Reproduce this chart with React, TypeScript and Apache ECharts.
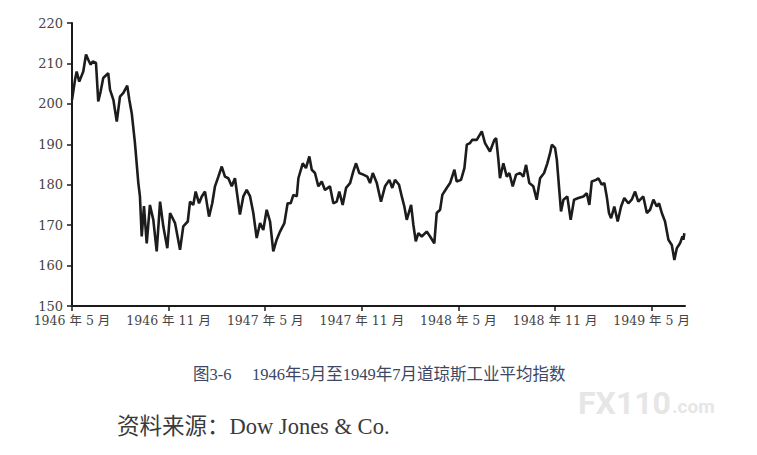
import React, { useEffect, useRef } from "react";
import * as echarts from "echarts";

// Months elapsed since 1 May 1946
const months = [
  0.0, 0.19, 0.29, 0.45, 0.7, 0.87, 1.01, 1.16, 1.29, 1.49, 1.63, 1.78, 1.94, 2.25, 2.36, 2.57, 2.78, 2.98, 3.19, 3.43,
  3.56, 3.71, 3.91, 4.12, 4.22, 4.33, 4.47, 4.64, 4.84, 5.05, 5.26, 5.47, 5.67, 5.92, 6.09, 6.4, 6.71, 6.91, 7.19, 7.33,
  7.53, 7.68, 7.89, 8.06, 8.26, 8.51, 8.71, 8.88, 9.09, 9.3, 9.5, 9.71, 9.92, 10.12, 10.43, 10.64, 10.85, 11.06, 11.26, 11.47,
  11.68, 11.88, 12.09, 12.3, 12.5, 12.71, 12.92, 13.19, 13.39, 13.58, 13.75, 13.96, 14.06, 14.33, 14.53, 14.74, 14.89, 15.09, 15.3, 15.51,
  15.71, 16.02, 16.23, 16.44, 16.6, 16.81, 17.02, 17.27, 17.47, 17.64, 17.84, 18.09, 18.34, 18.51, 18.68, 18.93, 19.19, 19.44, 19.71, 19.89,
  20.06, 20.31, 20.48, 20.64, 20.79, 21.06, 21.2, 21.35, 21.51, 21.72, 22.03, 22.24, 22.5, 22.65, 22.86, 23.0, 23.27, 23.48, 23.75, 23.89,
  24.16, 24.37, 24.52, 24.72, 24.86, 25.14, 25.45, 25.65, 25.96, 26.23, 26.34, 26.48, 26.58, 26.79, 27.0, 27.16, 27.37, 27.58, 27.83, 28.03,
  28.2, 28.4, 28.65, 28.86, 29.07, 29.32, 29.52, 29.69, 29.8, 30.0, 30.11, 30.27, 30.37, 30.52, 30.76, 30.97, 31.18, 31.45, 31.76, 31.97,
  32.13, 32.28, 32.55, 32.69, 32.9, 33.06, 33.21, 33.35, 33.48, 33.68, 33.89, 34.1, 34.3, 34.55, 34.76, 34.97, 35.17, 35.48, 35.7, 35.9,
  36.11, 36.32, 36.46, 36.63, 36.83, 37.04, 37.25, 37.41, 37.56, 37.76, 37.91, 37.97, 38.03,
];

// Dow Jones Industrial Average
const values = [
  201.0, 206.0, 208.0, 205.5, 208.0, 212.2, 210.9, 209.7, 210.5, 210.1, 200.6, 203.1, 206.4, 207.6, 203.5, 201.0, 195.6, 201.8, 202.7, 204.5,
  201.0, 197.7, 190.3, 180.4, 177.1, 167.2, 174.7, 165.5, 175.0, 171.3, 163.5, 175.8, 169.7, 164.3, 173.0, 170.5, 163.9, 169.7, 170.9, 175.8,
  175.0, 178.3, 175.4, 177.1, 178.3, 172.1, 175.4, 179.6, 182.0, 184.5, 182.0, 181.6, 179.6, 181.6, 172.6, 177.1, 178.7, 177.1, 173.0, 166.8,
  170.5, 168.8, 173.8, 170.9, 163.5, 166.4, 168.4, 170.5, 175.4, 175.4, 177.5, 177.1, 181.6, 185.3, 184.1, 187.0, 183.7, 182.9, 179.6, 180.8,
  178.7, 179.6, 175.4, 175.8, 178.3, 175.0, 179.2, 180.4, 183.3, 185.3, 182.9, 182.5, 182.0, 180.4, 182.9, 180.4, 175.8, 179.6, 181.2, 179.2,
  181.2, 180.0, 177.1, 174.6, 171.3, 175.0, 170.1, 166.0, 168.0, 167.2, 168.4, 167.2, 165.5, 173.0, 173.8, 177.5, 179.2, 180.4, 183.7, 180.8,
  181.2, 184.1, 189.9, 190.3, 191.1, 191.1, 193.2, 190.3, 188.2, 191.1, 191.5, 186.2, 181.6, 185.3, 182.0, 182.9, 179.6, 182.5, 182.9, 182.0,
  184.9, 180.4, 179.6, 176.3, 181.6, 182.9, 185.3, 187.8, 189.9, 189.1, 186.2, 178.3, 173.4, 176.3, 177.1, 171.3, 176.3, 176.7, 177.1, 177.9,
  175.0, 180.8, 181.2, 181.6, 180.0, 180.4, 177.1, 173.0, 171.7, 174.6, 170.9, 174.6, 176.7, 175.4, 176.3, 178.3, 175.8, 177.1, 173.0, 173.8,
  176.3, 174.6, 175.4, 173.0, 170.9, 166.4, 165.1, 161.4, 164.3, 165.5, 167.2, 166.4, 168.0,
];

const startYear = 1946;
const startMonth = 5; // May
const yTicks = [150, 160, 170, 180, 190, 200, 210, 220];
const caption = "图3-6\u3000 1946年5月至1949年7月道琼斯工业平均指数";
const source = "资料来源：Dow Jones & Co.";

function monthLabel(m: number): string {
  const total = startMonth - 1 + Math.round(m);
  const y = startYear + Math.floor(total / 12);
  const mo = (total % 12) + 1;
  return `${y} 年 ${mo} 月`;
}

export default function App() {
  const ref = useRef<HTMLDivElement>(null);
  useEffect(() => {
    if (!ref.current) return;
    const chart = echarts.init(ref.current, undefined, { renderer: "svg" });
    const data = months.map((m, i) => [m, values[i]]);
    chart.setOption({
      animation: false,
      backgroundColor: "#ffffff",
      grid: { left: 72, right: 72, top: 23, bottom: 149, containLabel: false },
      xAxis: {
        type: "value",
        min: 0,
        max: 38.07,
        interval: 6,
        axisLine: { show: true, lineStyle: { color: "#1a1a1a", width: 2 } },
        axisTick: { show: true, length: 5, lineStyle: { color: "#1a1a1a", width: 1.5 } },
        splitLine: { show: false },
        axisLabel: {
          showMaxLabel: false,
          color: "#444",
          fontFamily: "DejaVu Serif, Noto Sans CJK SC",
          fontSize: 12.5,
          margin: 8,
          formatter: (v: number) => monthLabel(v),
        },
      },
      yAxis: {
        type: "value",
        min: yTicks[0],
        max: yTicks[yTicks.length - 1],
        interval: 10,
        axisLine: { show: true, lineStyle: { color: "#1a1a1a", width: 2 } },
        axisTick: { show: true, length: 5, lineStyle: { color: "#1a1a1a", width: 1.5 } },
        splitLine: { show: false },
        axisLabel: {
          color: "#444",
          fontFamily: "DejaVu Serif",
          fontSize: 13,
          margin: 9,
        },
      },
      series: [
        {
          type: "line",
          data,
          showSymbol: false,
          lineStyle: { color: "#1c1c1c", width: 2.6 },
          z: 3,
        },
      ],
      graphic: [
        {
          type: "text",
          left: 193,
          top: 366,
          style: {
            text: caption,
            fill: "#3d4762",
            font: '16.5px "Liberation Serif", "Noto Sans CJK SC"',
          },
        },
        {
          type: "text",
          left: 117,
          top: 415,
          style: {
            text: source,
            fill: "#3a3a3a",
            font: '22.5px "Liberation Serif", "Noto Sans CJK SC"',
          },
        },
        {
          type: "text",
          left: 578,
          top: 387,
          style: {
            text: "FX110",
            fill: "#e6e6e6",
            font: 'bold 32px "Roboto"',
          },
        },
        {
          type: "text",
          left: 672,
          top: 397,
          style: {
            text: ".com",
            fill: "#e6e6e6",
            font: 'bold 19px "Roboto"',
          },
        },
      ],
    });
    return () => chart.dispose();
  }, []);
  return (
    <div
      ref={ref}
      style={{ position: "absolute", left: 0, top: 0, width: 757, height: 455 }}
    />
  );
}
